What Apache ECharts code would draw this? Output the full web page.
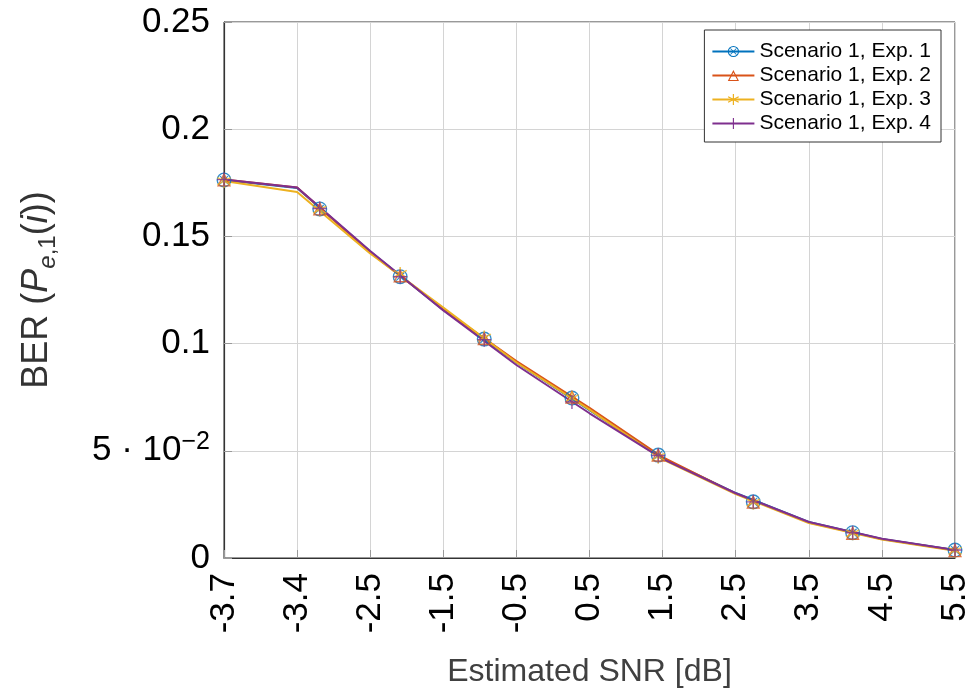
<!DOCTYPE html>
<html>
<head>
<meta charset="utf-8">
<script src="https://cdn.jsdelivr.net/npm/echarts@6/dist/echarts.min.js"></script>
<style>
  html, body { margin: 0; padding: 0; background: #fff; }
  #ber { width: 980px; height: 697px; }
</style>
</head>
<body>
<div id="ber"></div>
<script>
// tick labels of the (evenly spaced) SNR axis
const snrLabels = ['-3.7', '-3.4', '-2.5', '-1.5', '-0.5', '0.5', '1.5', '2.5', '3.5', '4.5', '5.5'];

// polyline vertices (one per tick position)
const lineX = [0, 1, 2, 3, 4, 5, 6, 7, 8, 9, 10];
const exp1Line = [0.1763, 0.1726, 0.1430, 0.1157, 0.0912, 0.0690, 0.0466, 0.0303, 0.0168, 0.0089, 0.0037];
const exp2Line = [0.1765, 0.1728, 0.1425, 0.1160, 0.0918, 0.0700, 0.0470, 0.0300, 0.0166, 0.0088, 0.0036];
const exp3Line = [0.1758, 0.1707, 0.1420, 0.1168, 0.0912, 0.0692, 0.0460, 0.0298, 0.0163, 0.0086, 0.0034];
const exp4Line = [0.1765, 0.1728, 0.1432, 0.1155, 0.0900, 0.0675, 0.0462, 0.0302, 0.0168, 0.0090, 0.0037];

// marker positions
const markX = [0, 1.31, 2.41, 3.56, 4.76, 5.94, 7.24, 8.60, 10];
const exp1Mark = [0.1763, 0.1628, 0.1312, 0.1021, 0.0746, 0.0480, 0.0262, 0.0118, 0.0037];
const exp2Mark = [0.1765, 0.1630, 0.1318, 0.1025, 0.0752, 0.0482, 0.0262, 0.0117, 0.0036];
const exp3Mark = [0.1758, 0.1625, 0.1325, 0.1028, 0.0745, 0.0472, 0.0258, 0.0115, 0.0034];
const exp4Mark = [0.1765, 0.1630, 0.1312, 0.1018, 0.0728, 0.0478, 0.0262, 0.0118, 0.0037];

const names = ['Scenario 1, Exp. 1', 'Scenario 1, Exp. 2', 'Scenario 1, Exp. 3', 'Scenario 1, Exp. 4'];
const colors = ['#0072BD', '#D95319', '#EDB120', '#7E2F8E'];

const FONT = '"Liberation Sans", Arial, Helvetica, sans-serif';

// marker shapes
const circleX = 'path://M0,10 A10,10 0 1,1 20,10 A10,10 0 1,1 0,10 Z M1.8,10 A8.2,8.2 0 1,0 18.2,10 A8.2,8.2 0 1,0 1.8,10 Z ' +
  'M4.2,5.3 L5.3,4.2 L15.8,14.7 L14.7,15.8 Z M14.7,4.2 L15.8,5.3 L5.3,15.8 L4.2,14.7 Z';
const triangle = 'path://M10,1 L19,18 L1,18 Z M10,5 L3.8,16.3 L16.2,16.3 Z';
const asterisk = 'path://M9,0 L11,0 L11,20 L9,20 Z M0.84,5.8 L1.84,4.2 L19.16,14.2 L18.16,15.8 Z ' +
  'M1.84,15.8 L0.84,14.2 L18.16,4.2 L19.16,5.8 Z';
const plus = 'path://M9,0 L11,0 L11,20 L9,20 Z M0,11 L0,9 L20,9 L20,11 Z';
const symbols = [circleX, triangle, asterisk, plus];

const lines = [exp1Line, exp2Line, exp3Line, exp4Line];
const marks = [exp1Mark, exp2Mark, exp3Mark, exp4Mark];

const chart = echarts.init(document.getElementById('ber'));

const series = [];
lines.forEach((ys, i) => {
  series.push({
    name: names[i],
    type: 'line',
    data: lineX.map((x, k) => [x, ys[k]]),
    showSymbol: false,
    symbol: symbols[i],
    color: colors[i],
    lineStyle: { width: 2, color: colors[i] },
    animation: false,
  });
});
marks.forEach((ys, i) => {
  series.push({
    name: names[i] + ' markers',
    type: 'scatter',
    data: markX.map((x, k) => [x, ys[k]]),
    symbol: symbols[i],
    symbolSize: i === 0 ? 15 : 14,
    itemStyle: { color: colors[i] },
    animation: false,
    z: 3,
  });
});

chart.setOption({
  backgroundColor: '#fff',
  textStyle: { fontFamily: FONT },
  grid: {
    left: 224, right: 25, top: 22, bottom: 139,
    show: true, borderColor: '#333', borderWidth: 1,
  },
  legend: {
    data: names,
    orient: 'vertical',
    right: 39,
    top: 30,
    itemWidth: 42,
    itemHeight: 14,
    itemGap: 3,
    padding: [11, 10, 8, 7],
    backgroundColor: '#fff',
    borderColor: '#333',
    borderWidth: 1,
    selectedMode: false,
    textStyle: { fontSize: 21, lineHeight: 20, color: '#000', fontFamily: FONT },
  },
  xAxis: {
    type: 'value',
    min: 0, max: 10, interval: 1,
    name: 'Estimated SNR [dB]',
    nameLocation: 'middle',
    nameGap: 98,
    nameTextStyle: { fontSize: 32, color: '#404040', fontFamily: FONT },
    axisLine: { lineStyle: { color: '#333', width: 1.2 } },
    axisTick: { inside: true, length: 8, lineStyle: { color: '#999' } },
    splitLine: { lineStyle: { color: '#d4d4d4', width: 1 } },
    axisLabel: {
      rotate: 90, fontSize: 35, color: '#000', margin: 15, fontFamily: FONT,
      formatter: v => snrLabels[Math.round(v)] || '',
    },
  },
  yAxis: {
    type: 'value',
    min: 0, max: 0.25, interval: 0.05,
    name: '{t|BER (}{it|P}{subi|e}{sub|,1}{t|(}{it|i}{t|))}',
    nameLocation: 'middle',
    nameRotate: 90,
    nameGap: 164,
    nameTextStyle: {
      color: '#333',
      rich: {
        t: { fontSize: 36, fontFamily: FONT, color: '#333', lineHeight: 46 },
        it: { fontSize: 36, fontFamily: FONT, color: '#333', fontStyle: 'italic', lineHeight: 46 },
        subi: { fontSize: 24, fontFamily: FONT, color: '#333', fontStyle: 'italic', lineHeight: 24, verticalAlign: 'bottom' },
        sub: { fontSize: 24, fontFamily: FONT, color: '#333', lineHeight: 24, verticalAlign: 'bottom' },
      },
    },
    axisLine: { show: true, lineStyle: { color: '#333', width: 1.2 } },
    axisTick: { show: true, inside: true, length: 8, lineStyle: { color: '#999' } },
    splitLine: { lineStyle: { color: '#d4d4d4', width: 1 } },
    axisLabel: {
      fontSize: 35, color: '#000', margin: 14, fontFamily: FONT,
      formatter: v => {
        const r = Math.round(v * 100) / 100;
        if (r === 0.05) return '{b|5 · 10}{sup|−2}';
        return '{b|' + String(r) + '}';
      },
      rich: {
        b: { fontSize: 35, fontFamily: FONT, color: '#000', lineHeight: 42 },
        sup: { fontSize: 25, fontFamily: FONT, color: '#000', lineHeight: 24, verticalAlign: 'top' },
      },
    },
  },
  series: series,
});
</script>
</body>
</html>
